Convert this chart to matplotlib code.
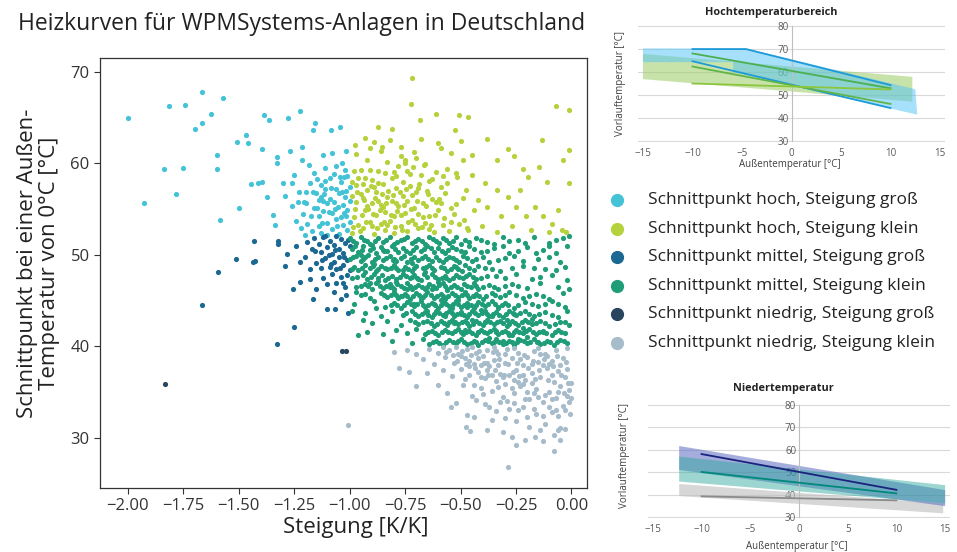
import matplotlib
matplotlib.use("Agg")
import matplotlib.pyplot as plt
from matplotlib.lines import Line2D
from matplotlib.patches import Polygon

plt.rcParams['font.family'] = ['Open Sans', 'DejaVu Sans']

# ---------------- data: main scatter (Steigung [K/K], Schnittpunkt [°C]) ----------------
hoch_gross = [(-2.0,64.9),(-1.926,55.7),(-1.836,59.4),(-1.816,66.2),(-1.781,56.6),(-1.753,59.5),(-1.741,66.4),
    (-1.698,63.7),(-1.667,67.8),(-1.664,64.4),(-1.624,65.4),(-1.598,60.9),(-1.598,59.4),(-1.586,53.8),(-1.569,67.1),
    (-1.509,62.3),(-1.5,55.1),(-1.466,63.1),(-1.457,62.2),(-1.443,57.7),(-1.414,57.8),(-1.397,61.6),(-1.388,65.3),
    (-1.397,58.0),(-1.371,56.3),(-1.362,64.7),(-1.345,54.3),(-1.336,53.2),(-1.328,60.0),(-1.328,60.7),(-1.302,57.8),
    (-1.276,64.9),(-1.267,61.3),(-1.259,57.8),(-1.25,58.7),(-1.233,55.8),(-1.224,65.7),(-1.216,61.8),(-1.216,60.3),
    (-1.207,55.8),(-1.198,56.9),(-1.181,59.8),(-1.164,63.6),(-1.155,64.4),(-1.147,58.3),(-1.138,54.2),(-1.129,56.3),
    (-1.121,60.9),(-1.112,58.1),(-1.103,55.6),(-1.086,63.6),(-1.078,61.1),(-1.06,57.2),(-1.052,55.2),(-1.043,64.0),
    (-1.034,60.0),(-1.026,58.5),(-1.017,54.2),(-1.017,61.3),
    (-1.19,53.4),(-1.17,52.6),(-1.16,55.1),(-1.15,56.7),(-1.14,53.1),(-1.13,52.4),(-1.12,54.8),(-1.11,57.2),
    (-1.10,53.5),(-1.09,56.1),(-1.08,52.8),(-1.08,54.6),(-1.07,58.8),(-1.06,53.9),(-1.05,56.7),(-1.05,52.3),
    (-1.04,57.9),(-1.03,55.4),(-1.03,53.2),(-1.02,56.3),(-1.02,59.3),(-1.01,52.7),(-1.01,54.9),(-1.00,57.4),
    (-1.00,53.6),(-1.09,58.4),(-1.11,59.5),(-1.13,57.6),(-1.16,58.9),(-1.18,57.8),(-1.21,54.4),(-1.23,56.9),
    (-1.24,53.7),(-1.26,55.3),(-1.20,52.2),(-1.07,55.8),(-1.04,54.1),(-1.12,55.9),(-1.14,56.0),(-1.06,59.7),
    (-1.00,55.9),(-1.01,58.6),(-1.10,52.2),(-1.22,52.9),(-1.29,56.4),
    (-1.195,55.6),(-1.175,54.2),(-1.165,56.8),(-1.145,55.1),(-1.125,53.5),(-1.115,56.6),(-1.095,54.7),
    (-1.085,57.3),(-1.065,55.0),(-1.055,53.1),(-1.045,58.5),(-1.035,56.8),(-1.025,54.6),(-1.015,57.0)]

hoch_klein = [(-0.719,69.3),(-0.724,66.5),(-0.681,64.7),(-0.609,65.4),(-0.509,65.3),(-0.466,65.1),(-0.526,63.6),
    (-0.603,62.2),(-0.379,62.7),(-0.284,61.6),(-0.133,62.5),(-0.069,66.2),(-0.009,65.8),(-0.009,61.4),(-0.038,60.3),
    (-0.009,57.8),(-0.871,64.0),(-0.81,63.7),(-0.931,62.8),(-0.974,62.0),(-0.888,62.3),(-0.853,61.8),(-0.767,60.8),
    (-0.75,60.3),(-0.716,59.6),(-0.664,59.8),(-0.543,61.1),(-0.491,60.3),(-0.448,60.9),(-0.336,60.3),(-0.259,60.8),
    (-0.219,59.4),(-0.198,58.5),(-0.147,59.6),(-0.112,58.0),(-0.233,57.1),(-0.284,56.3),(-0.336,57.1),(-0.388,57.8),
    (-0.422,56.0),(-0.474,57.1),(-0.517,58.5),(-0.56,57.8),(-0.586,55.6),(-0.543,55.1),(-0.44,54.9),(-0.379,55.2),
    (-0.319,54.2),(-0.25,55.2),(-0.207,54.2),(-0.164,55.2),(-0.129,54.2),(-0.086,53.4),(-0.043,52.7),(-0.026,52.5),
    (-0.06,54.9),(-0.103,52.5),(-0.509,53.4),(-0.466,52.7),(-0.405,53.1),(-0.336,52.5),(-0.267,53.1),(-0.181,52.7),
    (-0.99,52.4),(-0.98,54.1),(-0.97,55.8),(-0.97,57.6),(-0.96,53.2),(-0.95,59.3),(-0.95,56.6),(-0.94,52.9),
    (-0.93,54.9),(-0.92,57.1),(-0.92,60.4),(-0.91,53.6),(-0.90,55.7),(-0.90,58.2),(-0.89,52.3),(-0.88,54.3),
    (-0.88,56.9),(-0.87,59.1),(-0.86,53.4),(-0.86,55.4),(-0.85,57.7),(-0.84,52.7),(-0.84,54.7),(-0.83,56.3),
    (-0.83,60.1),(-0.82,53.7),(-0.81,55.9),(-0.81,58.4),(-0.80,52.4),(-0.80,54.2),(-0.79,57.3),(-0.78,55.3),
    (-0.78,59.7),(-0.77,53.1),(-0.76,56.4),(-0.76,58.0),(-0.75,54.6),(-0.74,52.6),(-0.74,55.9),(-0.73,57.5),
    (-0.72,53.8),(-0.71,55.1),(-0.71,61.2),(-0.70,56.8),(-0.69,52.9),(-0.69,54.4),(-0.68,58.7),(-0.67,55.6),
    (-0.66,53.5),(-0.65,57.0),(-0.64,54.2),(-0.63,56.1),(-0.62,52.5),(-0.61,59.0),(-0.60,54.9),(-0.58,53.2),
    (-0.57,56.7),(-0.55,52.6),(-0.53,54.5),(-0.49,56.2),(-0.47,52.9),(-0.45,58.7),(-0.97,61.0),(-0.93,58.4),
    (-0.91,61.7),(-0.89,57.4),(-0.86,61.3),(-0.85,55.2),(-0.82,62.5),(-0.80,59.0),(-0.77,61.8),(-0.75,60.0),
    (-0.73,58.8),(-0.70,60.6),(-0.68,62.7),(-0.66,59.9),(-0.63,58.3),(-0.59,61.7),(-0.56,59.4),(-0.52,58.9),
    (-0.50,62.4),(-0.99,56.4),(-0.98,59.2),(-0.96,58.4),(-0.94,56.2),(-0.92,55.3),(-0.90,53.1),(-0.87,55.9),
    (-0.83,53.2),(-0.79,55.6),(-0.77,54.3),(-0.72,56.5),(-0.67,54.1),(-0.64,52.8),(-0.61,55.8),(-0.59,57.4),
    (-0.985,53.0),(-0.975,55.0),(-0.965,56.8),(-0.955,52.6),(-0.945,54.3),(-0.935,56.0),(-0.925,53.6),(-0.915,55.0),
    (-0.905,57.5),(-0.895,54.5),(-0.885,56.2),(-0.875,52.9),(-0.865,54.9),(-0.855,56.6),(-0.845,53.6),(-0.835,55.7),
    (-0.825,57.0),(-0.815,54.3),(-0.805,56.5),(-0.795,53.0),(-0.785,54.8),(-0.775,56.9),(-0.765,52.7),(-0.755,55.4),
    (-0.745,57.2),(-0.735,53.6),(-0.725,55.0),(-0.705,53.4),(-0.695,55.9),(-0.685,57.7),(-0.675,53.0),(-0.655,55.3),
    (-0.645,56.6),(-0.635,53.3),(-0.615,54.3),(-0.595,56.1),(-0.575,54.0),(-0.545,53.6),(-0.52,55.5),(-0.485,53.8),
    (-0.99,58.0),(-0.94,57.7),(-0.91,59.3),(-0.87,57.8),(-0.84,58.9),(-0.79,58.6),(-0.74,59.2),(-0.69,57.3),
    (-0.64,58.1),(-0.58,58.6)]

mittel_gross = [(-1.431,51.5),(-1.324,51.5),(-1.322,51.2),(-1.426,49.3),(-1.434,49.2),(-1.514,49.5),(-1.591,48.1),
    (-1.664,44.5),(-1.293,48.8),(-1.281,50.1),(-1.241,50.9),(-1.224,49.2),(-1.224,47.0),(-1.253,46.2),(-1.25,42.1),
    (-1.326,40.2),(-1.164,45.2),(-1.178,47.3),(-1.15,46.2),(-1.103,44.1),(-1.064,44.1),(-1.017,45.6),(-1.009,43.6),
    (-1.16,51.8),(-1.14,51.2),(-1.13,50.3),(-1.12,51.9),(-1.11,49.6),(-1.10,50.8),(-1.09,48.7),(-1.09,51.5),
    (-1.08,47.9),(-1.08,50.1),(-1.07,49.2),(-1.07,51.1),(-1.06,48.4),(-1.06,46.9),(-1.05,50.6),(-1.05,49.8),
    (-1.04,47.6),(-1.04,51.7),(-1.03,48.9),(-1.03,50.2),(-1.02,46.5),(-1.02,51.3),(-1.01,49.4),(-1.01,47.8),
    (-1.00,50.9),(-1.00,48.3),(-1.15,49.1),(-1.17,50.6),(-1.19,51.4),(-1.18,48.4),(-1.12,47.5),(-1.10,46.8),
    (-1.13,48.6),(-1.07,45.9),(-1.04,45.2),(-1.20,49.8),(-1.11,52.0),(-1.06,52.0),(-1.03,46.9),
    (-1.155,50.4),(-1.125,49.4),(-1.095,50.0),(-1.065,50.5),(-1.045,48.6),(-1.025,49.7),(-1.005,51.6),(-1.085,49.0)]

mittel_klein = [
    (-1.00,51.8),(-0.97,51.3),(-0.95,51.9),(-0.92,51.5),(-0.90,51.1),(-0.87,51.8),(-0.85,51.4),(-0.82,51.9),
    (-0.80,51.2),(-0.77,51.6),(-0.74,51.9),(-0.72,51.3),(-0.69,51.7),(-0.66,51.2),(-0.64,51.9),(-0.61,51.5),
    (-0.58,51.8),(-0.55,51.3),(-0.52,51.9),(-0.48,51.6),(-0.43,51.8),(-0.38,51.4),(-0.31,51.9),(-0.24,51.6),
    (-0.17,51.9),(-0.10,51.3),(-0.04,51.8),(-0.01,52.0),
    (-0.99,50.6),(-0.96,50.3),(-0.94,50.9),(-0.91,50.5),(-0.88,50.2),(-0.86,50.8),(-0.83,50.4),(-0.81,50.9),
    (-0.78,50.3),(-0.76,50.7),(-0.73,50.2),(-0.70,50.8),(-0.68,50.4),(-0.65,50.9),(-0.62,50.3),(-0.60,50.7),
    (-0.57,50.2),(-0.54,50.8),(-0.50,50.4),(-0.46,50.9),(-0.41,50.3),(-0.35,50.7),(-0.28,50.2),(-0.20,50.8),
    (-0.13,50.5),(-0.07,50.2),(-0.02,50.9),
    (-1.00,49.5),(-0.97,49.9),(-0.95,49.3),(-0.93,49.7),(-0.90,49.2),(-0.87,49.8),(-0.85,49.4),(-0.82,49.9),
    (-0.79,49.3),(-0.77,49.6),(-0.74,49.2),(-0.71,49.8),(-0.69,49.4),(-0.66,49.9),(-0.63,49.3),(-0.61,49.7),
    (-0.58,49.2),(-0.55,49.8),(-0.52,49.4),(-0.49,49.9),(-0.45,49.3),(-0.40,49.7),(-0.33,49.4),(-0.26,49.9),
    (-0.15,49.5),(-0.05,49.2),
    (-0.98,48.7),(-0.96,48.3),(-0.93,48.9),(-0.91,48.5),(-0.88,48.2),(-0.86,48.8),(-0.83,48.4),(-0.80,48.9),
    (-0.78,48.3),(-0.75,48.7),(-0.72,48.2),(-0.70,48.8),(-0.67,48.5),(-0.64,48.9),(-0.62,48.3),(-0.59,48.7),
    (-0.56,48.2),(-0.53,48.8),(-0.51,48.4),(-0.48,48.9),(-0.44,48.3),(-0.39,48.6),(-0.32,48.2),(-0.22,48.8),
    (-0.12,48.4),(-0.03,48.7),
    (-0.99,47.4),(-0.94,47.8),(-0.92,47.3),(-0.89,47.9),(-0.87,47.5),(-0.84,47.2),(-0.81,47.7),(-0.79,47.3),
    (-0.76,47.9),(-0.73,47.4),(-0.71,47.8),(-0.68,47.2),(-0.65,47.6),(-0.63,47.9),(-0.60,47.3),(-0.57,47.7),
    (-0.55,47.2),(-0.52,47.8),(-0.49,47.4),(-0.46,47.9),(-0.43,47.3),(-0.38,47.7),(-0.30,47.4),(-0.25,47.9),
    (-0.18,47.3),(-0.09,47.8),(-0.02,47.2),
    (-0.97,46.5),(-0.93,46.8),(-0.90,46.3),(-0.88,46.9),(-0.85,46.4),(-0.82,46.8),(-0.80,46.2),(-0.77,46.6),
    (-0.74,46.9),(-0.72,46.3),(-0.69,46.7),(-0.66,46.2),(-0.64,46.8),(-0.61,46.4),(-0.58,46.9),(-0.56,46.3),
    (-0.53,46.7),(-0.50,46.2),(-0.47,46.6),(-0.44,46.9),(-0.42,46.3),(-0.37,46.7),(-0.33,46.3),(-0.27,46.8),
    (-0.20,46.4),(-0.14,46.9),(-0.06,46.5),(-0.01,46.2),
    (-0.95,45.6),(-0.91,45.3),(-0.86,45.8),(-0.83,45.4),(-0.80,45.9),(-0.78,45.3),(-0.75,45.7),(-0.73,45.2),
    (-0.70,45.8),(-0.67,45.4),(-0.65,45.9),(-0.62,45.3),(-0.59,45.7),(-0.57,45.2),(-0.54,45.8),(-0.51,45.4),
    (-0.48,45.9),(-0.46,45.3),(-0.43,45.7),(-0.40,45.2),(-0.36,45.8),(-0.32,45.4),(-0.28,45.9),(-0.22,45.3),
    (-0.16,45.7),(-0.10,45.2),(-0.04,45.8),
    (-0.98,44.6),(-0.89,44.9),(-0.84,44.3),(-0.80,44.7),(-0.77,44.2),(-0.74,44.8),(-0.71,44.4),(-0.68,44.9),
    (-0.66,44.3),(-0.63,44.7),(-0.60,44.2),(-0.58,44.8),(-0.55,44.4),(-0.52,44.9),(-0.50,44.3),(-0.47,44.7),
    (-0.44,44.2),(-0.42,44.8),(-0.39,44.4),(-0.36,44.9),(-0.33,44.3),(-0.30,44.7),(-0.26,44.2),(-0.21,44.8),
    (-0.15,44.4),(-0.09,44.9),(-0.03,44.3),
    (-0.93,43.6),(-0.86,43.3),(-0.81,43.8),(-0.76,43.4),(-0.72,43.9),(-0.69,43.3),(-0.66,43.7),(-0.63,43.2),
    (-0.61,43.8),(-0.58,43.4),(-0.55,43.9),(-0.53,43.3),(-0.50,43.7),(-0.47,43.2),(-0.45,43.8),(-0.42,43.4),
    (-0.39,43.9),(-0.37,43.3),(-0.34,43.7),(-0.31,43.2),(-0.28,43.8),(-0.25,43.4),(-0.21,43.9),(-0.17,43.3),
    (-0.12,43.7),(-0.06,43.2),(-0.02,43.9),
    (-0.90,42.5),(-0.83,42.8),(-0.77,42.3),(-0.73,42.9),(-0.69,42.4),(-0.65,42.8),(-0.62,42.2),(-0.59,42.7),
    (-0.56,42.3),(-0.54,42.9),(-0.51,42.4),(-0.48,42.8),(-0.46,42.2),(-0.43,42.7),(-0.40,42.3),(-0.38,42.9),
    (-0.35,42.4),(-0.32,42.8),(-0.29,42.2),(-0.27,42.7),(-0.24,42.3),(-0.21,42.9),(-0.18,42.4),(-0.14,42.8),
    (-0.10,42.2),(-0.05,42.6),(-0.01,42.3),
    (-0.92,41.5),(-0.85,41.3),(-0.79,41.8),(-0.74,41.4),(-0.70,41.9),(-0.66,41.3),(-0.63,41.7),(-0.60,41.2),
    (-0.57,41.8),(-0.54,41.4),(-0.51,41.9),(-0.49,41.3),(-0.46,41.7),(-0.43,41.2),(-0.41,41.8),(-0.38,41.4),
    (-0.35,41.9),(-0.33,41.3),(-0.30,41.7),(-0.27,41.2),(-0.25,41.8),(-0.22,41.4),(-0.19,41.9),(-0.16,41.3),
    (-0.13,41.7),(-0.09,41.2),(-0.06,41.8),(-0.03,41.4),
    (-0.81,40.6),(-0.72,40.3),(-0.67,40.8),(-0.64,40.2),(-0.61,40.6),(-0.58,40.1),(-0.55,40.7),(-0.52,40.3),
    (-0.50,40.8),(-0.47,40.2),(-0.44,40.6),(-0.42,40.1),(-0.39,40.7),(-0.36,40.3),(-0.34,40.8),(-0.31,40.2),
    (-0.28,40.6),(-0.26,40.1),(-0.23,40.7),(-0.20,40.3),(-0.17,40.8),(-0.14,40.2),(-0.11,40.6),(-0.08,40.1),
    (-0.05,40.7),(-0.02,40.3),
    (-0.95,50.0),(-0.93,48.1),(-0.91,51.2),(-0.89,49.0),(-0.87,47.1),(-0.85,50.5),(-0.84,48.6),(-0.82,46.5),
    (-0.80,49.5),(-0.79,47.0),(-0.77,45.5),(-0.76,48.3),(-0.74,46.3),(-0.72,49.1),(-0.71,44.6),(-0.69,47.3),
    (-0.68,45.3),(-0.66,48.1),(-0.65,43.8),(-0.63,46.2),(-0.62,44.6),(-0.60,47.0),(-0.59,45.0),(-0.57,43.3),
    (-0.56,46.1),(-0.54,44.2),(-0.53,42.5),(-0.51,45.1),(-0.50,43.5),(-0.48,41.8),(-0.47,44.3),(-0.45,42.9),
    (-0.44,45.5),(-0.42,41.6),(-0.41,44.0),(-0.39,42.6),(-0.37,40.9),(-0.36,43.3),(-0.34,41.7),(-0.33,44.2),
    (-0.31,40.6),(-0.29,42.9),(-0.28,41.2),(-0.26,43.5),(-0.24,40.8),(-0.22,42.0),(-0.20,41.0),(-0.18,43.0),
    (-0.15,40.5),(-0.13,41.5),(-0.97,45.9),(-0.99,43.9),(-0.94,42.9),(-0.96,41.2),(-0.88,44.2),(-0.91,46.9),
    (-0.985,51.55),(-0.935,51.65),(-0.885,51.45),(-0.835,51.6),(-0.785,51.4),(-0.755,51.75),(-0.705,51.5),
    (-0.675,51.45),(-0.625,51.7),(-0.595,51.25),(-0.565,51.6),(-0.535,51.45),(-0.50,51.2),(-0.46,51.35),
    (-0.41,51.65),(-0.35,51.2),(-0.28,51.5),(-0.21,51.3),(-0.07,51.6),
    (-0.975,50.95),(-0.945,50.55),(-0.895,50.75),(-0.845,50.45),(-0.795,50.6),(-0.745,50.45),(-0.715,50.55),
    (-0.665,50.6),(-0.635,50.7),(-0.585,50.45),(-0.555,50.55),(-0.52,50.65),(-0.48,50.25),(-0.44,50.6),
    (-0.38,50.45),(-0.31,50.9),(-0.24,50.4),(-0.16,50.2),(-0.10,50.9),
    (-0.985,49.75),(-0.94,49.55),(-0.915,49.95),(-0.885,49.5),(-0.835,49.6),(-0.805,49.45),(-0.755,49.85),
    (-0.725,49.55),(-0.675,49.6),(-0.645,49.5),(-0.595,49.45),(-0.565,49.55),(-0.535,49.6),(-0.505,49.25),
    (-0.47,49.6),(-0.43,49.5),(-0.37,49.2),(-0.30,49.65),(-0.22,49.3),(-0.10,49.8),
    (-0.99,48.45),(-0.945,48.6),(-0.895,48.75),(-0.87,48.45),(-0.815,48.6),(-0.79,48.55),(-0.735,48.45),
    (-0.71,48.5),(-0.655,48.7),(-0.63,48.55),(-0.575,48.5),(-0.545,48.45),(-0.52,48.65),(-0.495,48.2),
    (-0.46,48.6),(-0.42,48.75),(-0.36,48.4),(-0.27,48.5),(-0.17,48.6),(-0.07,48.3),
    (-0.965,47.6),(-0.905,47.55),(-0.855,47.8),(-0.825,47.45),(-0.775,47.6),(-0.745,47.65),(-0.72,47.55),
    (-0.695,47.5),(-0.665,47.85),(-0.615,47.6),(-0.585,47.5),(-0.565,47.45),(-0.535,47.5),(-0.505,47.6),
    (-0.475,47.65),(-0.445,47.55),(-0.41,47.5),(-0.34,47.7),(-0.14,47.55),
    (-0.95,46.6),(-0.915,46.55),(-0.865,46.6),(-0.835,46.6),(-0.81,46.5),(-0.785,46.85),(-0.755,46.4),
    (-0.73,46.6),(-0.705,46.5),(-0.675,46.45),(-0.65,46.5),(-0.625,46.6),(-0.595,46.65),(-0.57,46.6),
    (-0.545,46.45),(-0.515,46.5),(-0.485,46.8),(-0.455,46.45),(-0.43,46.6),(-0.40,46.5),(-0.35,46.5),
    (-0.30,46.55),(-0.24,46.6),
    (-0.93,45.7),(-0.845,45.6),(-0.815,45.65),(-0.79,45.6),(-0.765,45.5),(-0.74,45.45),(-0.715,45.5),
    (-0.685,45.6),(-0.66,45.65),(-0.635,45.55),(-0.605,45.5),(-0.58,45.45),(-0.555,45.5),(-0.525,45.6),
    (-0.495,45.65),(-0.47,45.55),(-0.445,45.5),(-0.415,45.45),(-0.385,45.5),(-0.345,45.6),(-0.30,45.6),
    (-0.25,45.6),(-0.19,45.5),(-0.13,45.45),
    (-0.815,44.5),(-0.785,44.45),(-0.755,44.5),(-0.725,44.6),(-0.695,44.65),(-0.67,44.55),(-0.645,44.5),
    (-0.615,44.45),(-0.59,44.5),(-0.565,44.6),(-0.535,44.65),(-0.51,44.6),(-0.485,44.5),(-0.455,44.45),
    (-0.43,44.5),(-0.405,44.6),(-0.375,44.65),(-0.345,44.6),(-0.315,44.5),(-0.285,44.45),(-0.24,44.5),
    (-0.18,44.6),(-0.12,44.65),(-0.06,44.6),
    (-0.745,43.6),(-0.705,43.55),(-0.675,43.5),(-0.645,43.45),(-0.62,43.5),(-0.595,43.6),(-0.565,43.65),
    (-0.54,43.6),(-0.515,43.5),(-0.485,43.45),(-0.46,43.5),(-0.435,43.6),(-0.405,43.65),(-0.38,43.55),
    (-0.355,43.5),(-0.325,43.45),(-0.295,43.5),(-0.265,43.6),(-0.23,43.65),(-0.19,43.55),(-0.145,43.5),
    (-0.09,43.45),
    (-0.705,42.6),(-0.67,42.6),(-0.635,42.5),(-0.605,42.45),(-0.575,42.5),(-0.55,42.6),(-0.525,42.65),
    (-0.495,42.6),(-0.47,42.5),(-0.445,42.45),(-0.415,42.5),(-0.39,42.6),(-0.365,42.65),(-0.335,42.6),
    (-0.31,42.5),(-0.28,42.45),(-0.255,42.5),(-0.225,42.6),(-0.195,42.65),(-0.16,42.55),(-0.12,42.5),
    (-0.075,42.45),(-0.03,42.6),
    (-0.645,41.5),(-0.615,41.45),(-0.585,41.5),(-0.555,41.6),(-0.525,41.65),(-0.50,41.6),(-0.475,41.5),
    (-0.45,41.45),(-0.42,41.5),(-0.395,41.6),(-0.365,41.65),(-0.34,41.55),(-0.315,41.5),(-0.285,41.45),
    (-0.26,41.5),(-0.235,41.6),(-0.205,41.65),(-0.175,41.55),(-0.145,41.5),(-0.115,41.45),(-0.075,41.5),
    (-0.045,41.6),
    (-0.625,40.45),(-0.595,40.4),(-0.565,40.45),(-0.535,40.5),(-0.51,40.55),(-0.485,40.5),(-0.455,40.4),
    (-0.43,40.45),(-0.405,40.5),(-0.375,40.55),(-0.35,40.5),(-0.325,40.45),(-0.295,40.4),(-0.27,40.45),
    (-0.245,40.5),(-0.215,40.55),(-0.185,40.5),(-0.155,40.45),(-0.125,40.4),(-0.095,40.45),(-0.065,40.5),
    (-0.035,40.55)]

niedrig_gross = [(-1.831,35.9),(-1.034,39.5),(-1.017,39.5)]

niedrig_klein = [(-1.005,31.4),(-0.80,39.4),(-0.779,37.6),(-0.733,37.2),(-0.702,35.6),(-0.543,33.4),(-0.474,31.2),
    (-0.457,30.7),(-0.44,32.3),(-0.284,26.8),(-0.25,29.2),(-0.078,28.5),(-0.164,30.1),(-0.129,29.6),(-0.052,29.7),
    (-0.379,30.8),(-0.74,39.6),(-0.70,39.2),(-0.67,38.6),(-0.64,39.7),(-0.62,38.1),(-0.60,39.3),(-0.58,37.4),
    (-0.57,38.8),(-0.55,39.6),(-0.54,36.7),(-0.53,38.2),(-0.51,39.1),(-0.50,37.5),(-0.49,35.8),(-0.48,38.7),
    (-0.47,39.7),(-0.46,36.9),(-0.45,34.6),(-0.44,38.1),(-0.43,39.3),(-0.42,37.2),(-0.41,35.4),(-0.40,38.9),
    (-0.39,33.7),(-0.39,36.5),(-0.38,39.6),(-0.37,37.8),(-0.36,35.1),(-0.35,38.5),(-0.34,36.2),(-0.34,32.9),
    (-0.33,39.2),(-0.32,37.0),(-0.31,34.4),(-0.30,38.2),(-0.30,35.9),(-0.29,39.7),(-0.28,33.1),(-0.28,36.8),
    (-0.27,38.7),(-0.26,34.9),(-0.25,37.4),(-0.25,31.8),(-0.24,39.3),(-0.23,35.6),(-0.22,37.9),(-0.22,33.4),
    (-0.21,36.3),(-0.20,38.8),(-0.19,34.2),(-0.19,31.2),(-0.18,37.1),(-0.17,39.5),(-0.16,35.3),(-0.16,32.6),
    (-0.15,38.3),(-0.14,36.6),(-0.13,33.9),(-0.12,39.1),(-0.12,31.5),(-0.11,37.6),(-0.10,35.0),(-0.09,38.4),
    (-0.09,32.8),(-0.08,36.1),(-0.07,39.6),(-0.07,34.3),(-0.06,37.3),(-0.05,31.1),(-0.05,35.7),(-0.04,38.7),
    (-0.04,33.5),(-0.03,36.6),(-0.02,34.6),(-0.02,39.8),(-0.01,35.2),(-0.01,33.9),(0.0,36.0),(0.0,34.3),
    (-0.60,35.8),(-0.56,34.9),(-0.65,37.1),(-0.52,33.8),(-0.47,32.5),(-0.36,31.9),(-0.31,30.6),(-0.27,30.1),
    (-0.21,29.8),(-0.14,30.8),(-0.43,34.1),(-0.48,36.4),(-0.38,37.4),(-0.33,35.5),(-0.29,34.0),(-0.24,36.1),
    (-0.20,35.0),(-0.17,33.1),(-0.13,37.9),(-0.10,33.3),(-0.08,30.3),(-0.06,32.4),(-0.03,30.9),(-0.11,38.9),
    (-0.15,39.8),(-0.26,39.8),(-0.35,39.9),(-0.45,39.9),(-0.52,39.9),(-0.58,39.9),(-0.41,37.9),(-0.31,36.6),
    (-0.23,38.6),(-0.18,36.0),(-0.15,34.5),(-0.27,35.4),(-0.37,33.3),(-0.44,35.8),(-0.33,37.9),(-0.21,34.2),
    (-0.09,36.9),(-0.05,37.9),(-0.02,37.5),(-0.07,33.0),
    (-0.565,39.4),(-0.535,39.0),(-0.515,38.4),(-0.495,39.5),(-0.475,38.0),(-0.455,39.0),(-0.435,37.6),(-0.415,39.5),
    (-0.395,38.2),(-0.375,36.8),(-0.355,39.4),(-0.345,37.4),(-0.325,38.6),(-0.305,36.9),(-0.285,38.0),(-0.265,37.2),
    (-0.245,38.2),(-0.235,36.7),(-0.215,39.0),(-0.195,37.6),(-0.175,38.4),(-0.165,36.4),(-0.145,37.4),(-0.125,38.6),
    (-0.105,36.3),(-0.085,37.8),(-0.065,38.9),(-0.045,36.9),(-0.025,38.3),(-0.015,36.0),(-0.50,38.9),(-0.46,38.4),
    (-0.42,38.7),(-0.38,38.2),(-0.34,39.5),(-0.30,39.1),(-0.26,36.3),(-0.22,36.9),(-0.18,38.0),(-0.14,39.2),
    (-0.10,38.0),(-0.06,35.0),(-0.03,33.0),(-0.12,34.7),(-0.17,34.9),(-0.22,35.9),(-0.26,33.8),(-0.32,33.9),
    (-0.36,36.9),(-0.41,36.6),(-0.46,37.8),(-0.40,34.8),(-0.30,32.2),(-0.24,33.0),(-0.20,32.3),(-0.13,32.4),
    (-0.09,34.2),(-0.035,34.9),(-0.005,32.6),(-0.06,30.8)]

categories = ["Schnittpunkt hoch, Steigung groß", "Schnittpunkt hoch, Steigung klein",
              "Schnittpunkt mittel, Steigung groß", "Schnittpunkt mittel, Steigung klein",
              "Schnittpunkt niedrig, Steigung groß", "Schnittpunkt niedrig, Steigung klein"]
series = [hoch_gross, hoch_klein, mittel_gross, mittel_klein, niedrig_gross, niedrig_klein]
colors = ["#45c3d6", "#b5d23c", "#1b6892", "#1f9c78", "#27455f", "#a7bccb"]
x_ticks = [-2.0, -1.75, -1.5, -1.25, -1.0, -0.75, -0.5, -0.25, 0.0]
y_ticks = [30, 40, 50, 60, 70]

# ---------------- data: inset curves (Außentemperatur, Vorlauftemperatur) ----------------
hoch_band_blau = [(-15, 70.3), (-4.6, 70.3), (12.5, 52.5), (12.7, 41.4), (-5.9, 60.0), (-5.9, 64.3), (-15, 64.3)]
hoch_band_gruen = [(-15, 67.9), (12.2, 57.9), (12.2, 47.1), (-15, 56.9)]
hoch_linien = [
    ([-10, -4.6, 10], [70.0, 70.0, 54.3], "#1e9ad8"),
    ([-10, 10], [64.7, 44.3], "#1e9ad8"),
    ([-10, 10], [68.1, 52.9], "#4caf50"),
    ([-10, 10], [62.4, 46.1], "#5fb548"),
    ([-10, 10], [55.0, 52.4], "#8cc63f"),
]
nieder_band_blau = [(-12.3, 61.7), (15, 42.0), (15, 34.8), (-12.3, 51.0)]
nieder_band_gruen = [(-12.3, 57.0), (15, 44.2), (15, 36.0), (-12.3, 45.8)]
nieder_band_grau = [(-12.3, 44.7), (14.8, 36.0), (14.8, 31.6), (-12.3, 39.3)]
nieder_linien = [
    ([-10, 10], [58.1, 42.1], "#1a237e"),
    ([-10, 10], [50.1, 40.5], "#00897b"),
    ([-10, 10], [39.2, 37.4], "#8a8a8a"),
]
inset_x_ticks = [-15, -10, -5, 0, 5, 10, 15]
inset_y_ticks = [30, 40, 50, 60, 70, 80]

# ---------------- figure ----------------
W, H = 957, 552
fig = plt.figure(figsize=(W / 100, H / 100), dpi=100)

def fx(px):
    return px / W

def fy(py):
    return 1 - py / H

fig.text(fx(18), fy(24), "Heizkurven für WPMSystems-Anlagen in Deutschland",
         fontsize=16.5, color="#222222", ha="left", va="center")

ax = fig.add_axes([fx(100), fy(488), fx(587) - fx(100), fy(58) - fy(488)])
for pts, col in zip(series, colors):
    ax.scatter([p[0] for p in pts], [p[1] for p in pts], s=14, color=col, linewidths=0, zorder=3)
ax.set_xlim(-2.125, 0.07)
ax.set_ylim(24.5, 71.5)
ax.set_xticks(x_ticks)
ax.set_xticklabels([f"{t:.2f}".replace("-", "\u2212") for t in x_ticks])
ax.set_yticks(y_ticks)
ax.tick_params(labelsize=12, colors="#333333", length=4, width=0.8)
for s in ax.spines.values():
    s.set_color("#333333")
    s.set_linewidth(0.9)

fig.text(fx(38.5), fy(263), "Schnittpunkt bei einer Außen-\nTemperatur von 0°C [°C]",
         rotation=90, fontsize=16, ha="center", va="center", color="#222222", linespacing=1.1)
fig.text(fx(356), fy(528), "Steigung [K/K]", fontsize=16, ha="center", va="center", color="#222222")

# legend (manual)
for i, (lab, col) in enumerate(zip(categories, colors)):
    yy = fy(200 + i * 28.6)
    fig.add_artist(Line2D([fx(617)], [yy], marker="o", markersize=8.5, color=col, linestyle="none",
                          transform=fig.transFigure))
    fig.text(fx(648), yy, lab, fontsize=12.5, ha="left", va="center", color="#222222")


def inset(rect, title, title_xy, xlabel_xy, ylabel_xy, bands, lines):
    a = fig.add_axes(rect)
    for poly, col, alp in bands:
        a.add_patch(Polygon(poly, closed=True, facecolor=col, alpha=alp, edgecolor="none", zorder=2))
    for xs, ys, col in lines:
        a.plot(xs, ys, color=col, lw=1.3, zorder=3)
    a.set_xlim(-15.5, 15.5)
    a.set_ylim(29.5, 80.5)
    a.set_xticks(inset_x_ticks)
    a.set_yticks(inset_y_ticks)
    a.yaxis.grid(True, color="#d9d9d9", lw=0.8, zorder=0)
    a.set_axisbelow(True)
    for k in ("top", "right", "bottom"):
        a.spines[k].set_visible(False)
    a.spines["left"].set_position(("data", 0))
    a.spines["left"].set_bounds(30, 80)
    a.spines["left"].set_color("#bfbfbf")
    a.spines["left"].set_linewidth(0.8)
    a.tick_params(axis="both", length=0, labelsize=7, colors="#595959", pad=2)
    a.tick_params(axis="x", pad=4)
    fig.text(fx(title_xy[0]), fy(title_xy[1]), title, fontsize=7.8, fontweight="bold",
             ha="center", va="center", color="#222222")
    fig.text(fx(xlabel_xy[0]), fy(xlabel_xy[1]), "Außentemperatur [°C]", fontsize=7,
             ha="center", va="center", color="#404040")
    fig.text(fx(ylabel_xy[0]), fy(ylabel_xy[1]), "Vorlauftemperatur [°C]", fontsize=7,
             rotation=90, ha="center", va="center", color="#404040")
    return a

inset([fx(638), fy(142), fx(945) - fx(638), fy(25) - fy(142)],
      "Hochtemperaturbereich", (771, 12), (790, 164), (621, 83),
      [(hoch_band_gruen, "#9ccc65", 0.55), (hoch_band_blau, "#4fc3f7", 0.5)],
      hoch_linien)

inset([fx(648), fy(518), fx(950) - fx(648), fy(404) - fy(518)],
      "Niedertemperatur", (783, 388), (797, 546), (624, 455),
      [(nieder_band_grau, "#bdbdbd", 0.6), (nieder_band_blau, "#5c6bc0", 0.55),
       (nieder_band_gruen, "#26a69a", 0.45)],
      nieder_linien)

fig.savefig("out.png", dpi=100)
